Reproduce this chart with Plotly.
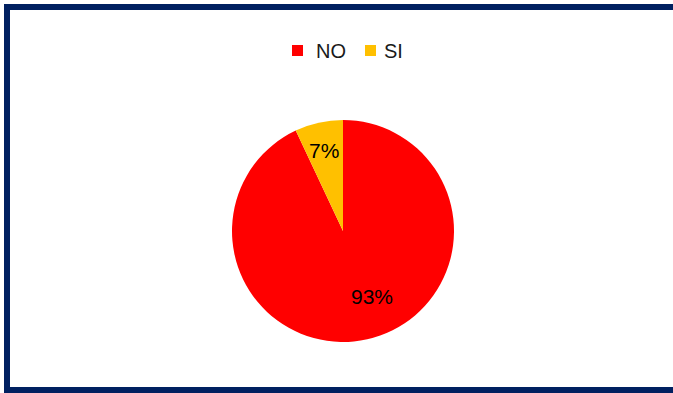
import plotly.graph_objects as go

# Survey answers and their shares
labels = ["NO", "SI"]
values = [93, 7]
colors = ["#FF0000", "#FFC000"]

W, H = 673, 393
navy = "#002060"
font_family = "Liberation Sans, Arial, sans-serif"


def px_x(x):
    return x / W


def px_y(y):
    return 1 - y / H


fig = go.Figure()
fig.add_trace(go.Pie(
    labels=labels,
    values=values,
    sort=False,
    direction="clockwise",
    rotation=0,
    marker=dict(colors=colors, line=dict(width=0)),
    textinfo="none",
    hoverinfo="label+percent",
    showlegend=False,
    domain=dict(x=[px_x(232), px_x(454)], y=[px_y(342), px_y(120)]),
))

# Percentage labels, written from the shares
total = sum(values)
label_pos = [(372, 296), (324, 150)]
annotations = []
for v, (lx, ly) in zip(values, label_pos):
    annotations.append(dict(
        x=px_x(lx), y=px_y(ly), xref="paper", yref="paper",
        text=f"{round(100 * v / total)}%", showarrow=False,
        xanchor="center", yanchor="middle",
        font=dict(family=font_family, size=21, color="#000000"),
    ))

# Legend: coloured squares followed by their labels
legend_items = [(292, 314), (365, 382)]
shapes = []
for lab, col, (sx, tx) in zip(labels, colors, legend_items):
    shapes.append(dict(
        type="rect", xref="paper", yref="paper",
        x0=px_x(sx), x1=px_x(sx + 11), y0=px_y(56), y1=px_y(45),
        fillcolor=col, line=dict(width=0),
    ))
    annotations.append(dict(
        x=px_x(tx), y=px_y(50.5), xref="paper", yref="paper",
        text=lab, showarrow=False, xanchor="left", yanchor="middle",
        font=dict(family=font_family, size=20, color="#1a1a1a"),
    ))

# Frame drawn along the top, left and bottom edges
frame = [
    (4, 4, W, 10),
    (4, 4, 10, H),
    (4, 387, W, H),
]
for x0, y0, x1, y1 in frame:
    shapes.append(dict(
        type="rect", xref="paper", yref="paper",
        x0=px_x(x0), x1=px_x(x1), y0=px_y(y1), y1=px_y(y0),
        fillcolor=navy, line=dict(width=0), layer="above",
    ))

fig.update_layout(
    width=W,
    height=H,
    margin=dict(l=0, r=0, t=0, b=0),
    paper_bgcolor="white",
    plot_bgcolor="white",
    shapes=shapes,
    annotations=annotations,
    showlegend=False,
)

fig.write_html("out.html")
